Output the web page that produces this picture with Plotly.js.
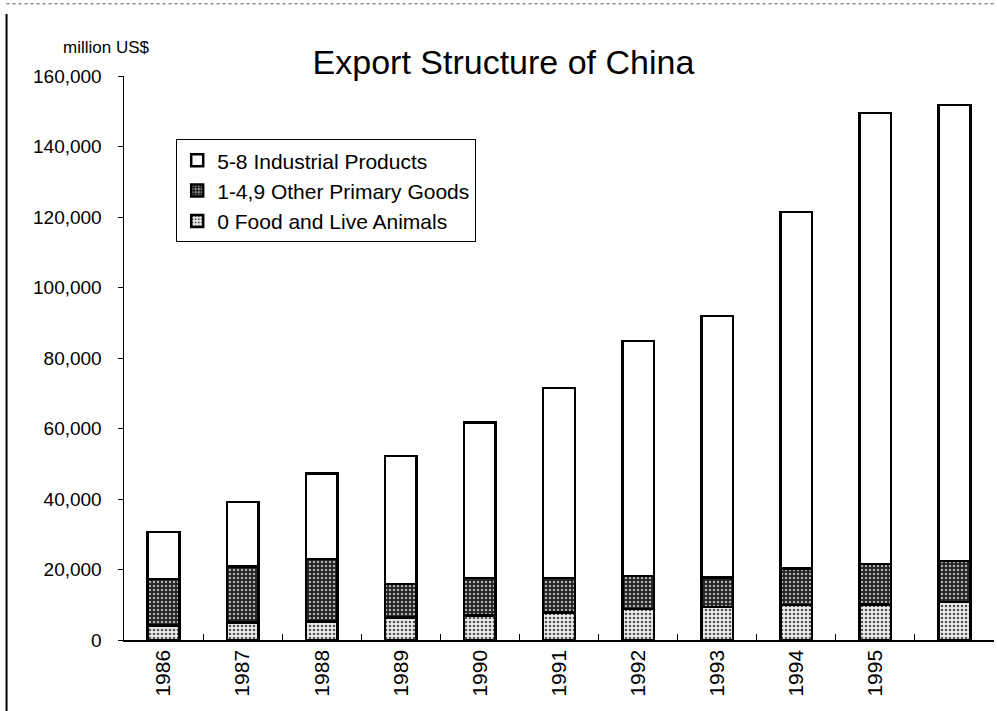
<!DOCTYPE html>
<html>
<head>
<meta charset="utf-8">
<script src="https://cdn.plot.ly/plotly-3.0.1.min.js"></script>
<style>html,body{margin:0;padding:0;background:#fff;}#chart{width:997px;height:711px;}</style>
</head>
<body>
<div id="chart"></div>
<script>
// Categories and tick labels (last label is not printed in the reference)
const years = ["1986","1987","1988","1989","1990","1991","1992","1993","1994","1995","1996"];
const yearLabels = ["1986","1987","1988","1989","1990","1991","1992","1993","1994","1995",""];

// Values, million US$
const foodLiveAnimals = [4100, 5000, 5300, 6400, 6900, 7800, 8800, 9300, 9900, 10100, 10800];
const otherPrimaryGoods = [13200, 15800, 17700, 9500, 10700, 9800, 9400, 8500, 10400, 11500, 11600];
const industrialProducts = [13400, 18400, 24300, 36300, 44100, 53900, 66600, 74100, 101100, 127900, 129400];

const seriesNames = ["0 Food and Live Animals", "1-4,9 Other Primary Goods", "5-8 Industrial Products"];

const lineStyle = {color: "#000", width: 2.5};

const traces = [
  {
    type: "bar", name: seriesNames[0], x: years, y: foodLiveAnimals, legendgroup: "a",
    marker: {color: "#e0e0e0", line: lineStyle,
      pattern: {shape: ".", fgcolor: "#555", bgcolor: "#ececec", size: 4, solidity: 0.35}},
    hoverinfo: "x+y+name"
  },
  {
    type: "bar", name: seriesNames[1], x: years, y: otherPrimaryGoods, legendgroup: "b",
    marker: {color: "#333", line: lineStyle,
      pattern: {shape: ".", fgcolor: "#b0b0b0", bgcolor: "#222222", size: 4, solidity: 0.3}},
    hoverinfo: "x+y+name"
  },
  {
    type: "bar", name: seriesNames[2], x: years, y: industrialProducts, legendgroup: "c",
    marker: {color: "#ffffff", line: lineStyle},
    hoverinfo: "x+y+name"
  }
];

const layout = {
  width: 997, height: 711,
  margin: {l: 124, r: 3, t: 76, b: 71},
  paper_bgcolor: "#fff", plot_bgcolor: "#fff",
  font: {family: "Liberation Sans, Arial, sans-serif", color: "#000", size: 17},
  barmode: "stack",
  bargap: 0.6,
  showlegend: true,
  title: {text: "Export Structure of China", x: 0.505, xref: "container", xanchor: "center",
          y: 0.913, yref: "container", yanchor: "middle",
          font: {size: 34, family: "Liberation Sans, Arial, sans-serif", color: "#000"}},
  xaxis: {
    type: "category",
    tickmode: "array", tickvals: years, ticktext: yearLabels,
    tickangle: -90,
    showline: true, linecolor: "#000", linewidth: 1.5,
    ticks: "inside", ticklen: 6, tickcolor: "#000", tickson: "boundaries",
    showgrid: false, zeroline: false,
    tickfont: {size: 21}
  },
  yaxis: {
    range: [0, 160000], dtick: 20000, tickformat: ",d",
    showline: true, linecolor: "#000", linewidth: 1.5,
    ticks: "outside", ticklen: 5, tickcolor: "#000",
    showgrid: false, zeroline: false,
    tickfont: {size: 19},
    ticklabelstandoff: 12
  },
  legend: {
    x: 0.06, y: 0.888, xanchor: "left", yanchor: "top",
    bgcolor: "#fff", bordercolor: "#000", borderwidth: 1,
    traceorder: "reversed", tracegroupgap: 6, itemwidth: 30,
    font: {size: 21}
  },
  annotations: [
    {text: "million US$", xref: "paper", yref: "paper", x: -0.02, y: 1.05,
     xanchor: "center", yanchor: "middle", showarrow: false, font: {size: 17}}
  ],
  shapes: [
    {type: "line", xref: "paper", yref: "paper", x0: -0.135, x1: -0.135, y0: -0.2, y1: 1.11,
     line: {color: "#000", width: 2}},
    {type: "line", xref: "paper", yref: "paper", x0: -0.135, x1: 1.0, y0: 1.128, y1: 1.128,
     line: {color: "#555", width: 1, dash: "dot"}}
  ]
};

Plotly.newPlot("chart", traces, layout, {displayModeBar: false, staticPlot: true});
</script>
</body>
</html>
